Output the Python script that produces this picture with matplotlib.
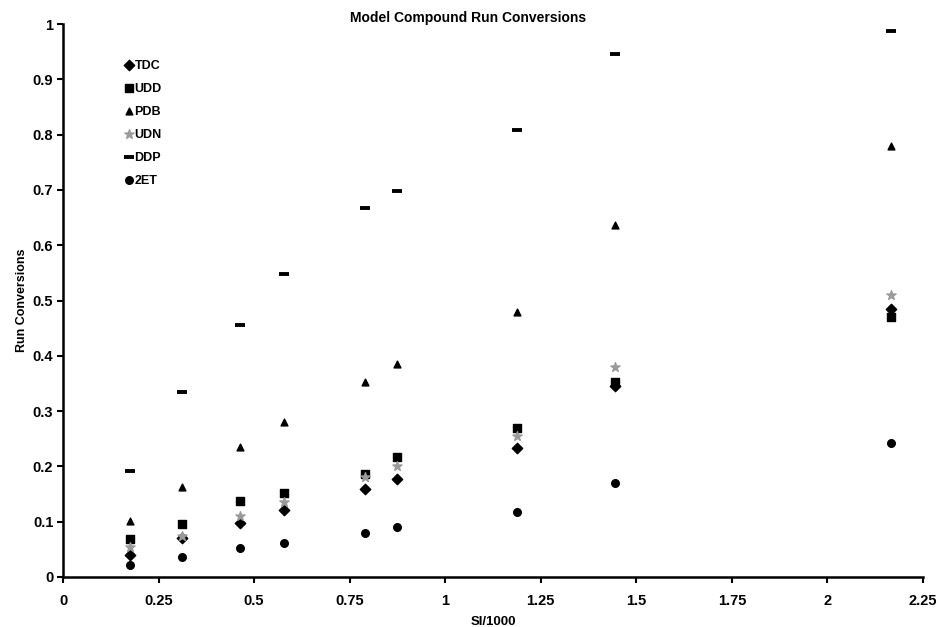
import matplotlib
matplotlib.use("Agg")
import matplotlib.pyplot as plt
from matplotlib.ticker import FuncFormatter

plt.rcParams['font.family'] = ['Liberation Sans', 'DejaVu Sans']

si = [0.175, 0.312, 0.463, 0.579, 0.790, 0.874, 1.188, 1.443, 2.167]
tdc = [0.040, 0.070, 0.097, 0.122, 0.160, 0.177, 0.233, 0.345, 0.485]
udd = [0.068, 0.095, 0.138, 0.152, 0.187, 0.217, 0.270, 0.352, 0.470]
pdb = [0.102, 0.163, 0.235, 0.280, 0.352, 0.385, 0.480, 0.637, 0.780]
udn = [0.055, 0.075, 0.110, 0.135, 0.180, 0.200, 0.255, 0.380, 0.510]
ddp = [0.192, 0.335, 0.455, 0.548, 0.668, 0.698, 0.808, 0.945, 0.988]
zet = [0.022, 0.036, 0.052, 0.062, 0.080, 0.090, 0.117, 0.170, 0.242]

series = [
    ("TDC", tdc, dict(marker='D', color='black', s=28)),
    ("UDD", udd, dict(marker='s', color='black', s=30)),
    ("PDB", pdb, dict(marker='^', color='black', s=24)),
    ("UDN", udn, dict(marker='*', color='#9a9a9a', s=48)),
    ("DDP", ddp, dict(marker='_', color='black', s=55, linewidths=2.8)),
    ("2ET", zet, dict(marker='o', color='black', s=30)),
]

fig = plt.figure(figsize=(9.38, 6.27), dpi=100)
ax = fig.add_axes([63/938, 1-577/627, (923-63)/938, (577-24)/627])

handles = []
for name, vals, kw in series:
    h = ax.scatter(si, vals, label=name, zorder=3, **kw)
    handles.append(h)

ax.set_xlim(0, 2.25)
ax.set_ylim(0, 1)
ax.set_xticks([0, 0.25, 0.5, 0.75, 1, 1.25, 1.5, 1.75, 2, 2.25])
ax.set_yticks([i/10 for i in range(11)])
fmt = FuncFormatter(lambda v, p: ('%g' % round(v, 2)))
ax.xaxis.set_major_formatter(fmt)
ax.yaxis.set_major_formatter(fmt)

for sp in ['top', 'right']:
    ax.spines[sp].set_visible(False)
for sp in ['left', 'bottom']:
    ax.spines[sp].set_linewidth(1.8)
ax.tick_params(axis='both', direction='out', length=4, width=1.5, labelsize=10.5)
ax.tick_params(axis='x', pad=8)
ax.tick_params(axis='y', pad=3)
for lab in ax.get_xticklabels() + ax.get_yticklabels():
    lab.set_fontweight('bold')

ax.set_xlabel("SI/1000", fontsize=9.5, fontweight='bold', labelpad=6)
ax.set_ylabel("Run Conversions", fontsize=9, fontweight='bold', va='center')
ax.yaxis.set_label_coords(-41/860, 0.5)
fig.text(468/938, 1-18/627, "Model Compound Run Conversions", ha='center', va='center',
         fontsize=10, fontweight='bold')

leg = ax.legend(handles=handles, loc='upper left', bbox_to_anchor=(0.065, 0.947),
                frameon=False, fontsize=9, handlelength=0.6, handletextpad=0.15,
                labelspacing=0.88, borderpad=0)
for t in leg.get_texts():
    t.set_fontweight('bold')

fig.savefig("out.png", dpi=100)
